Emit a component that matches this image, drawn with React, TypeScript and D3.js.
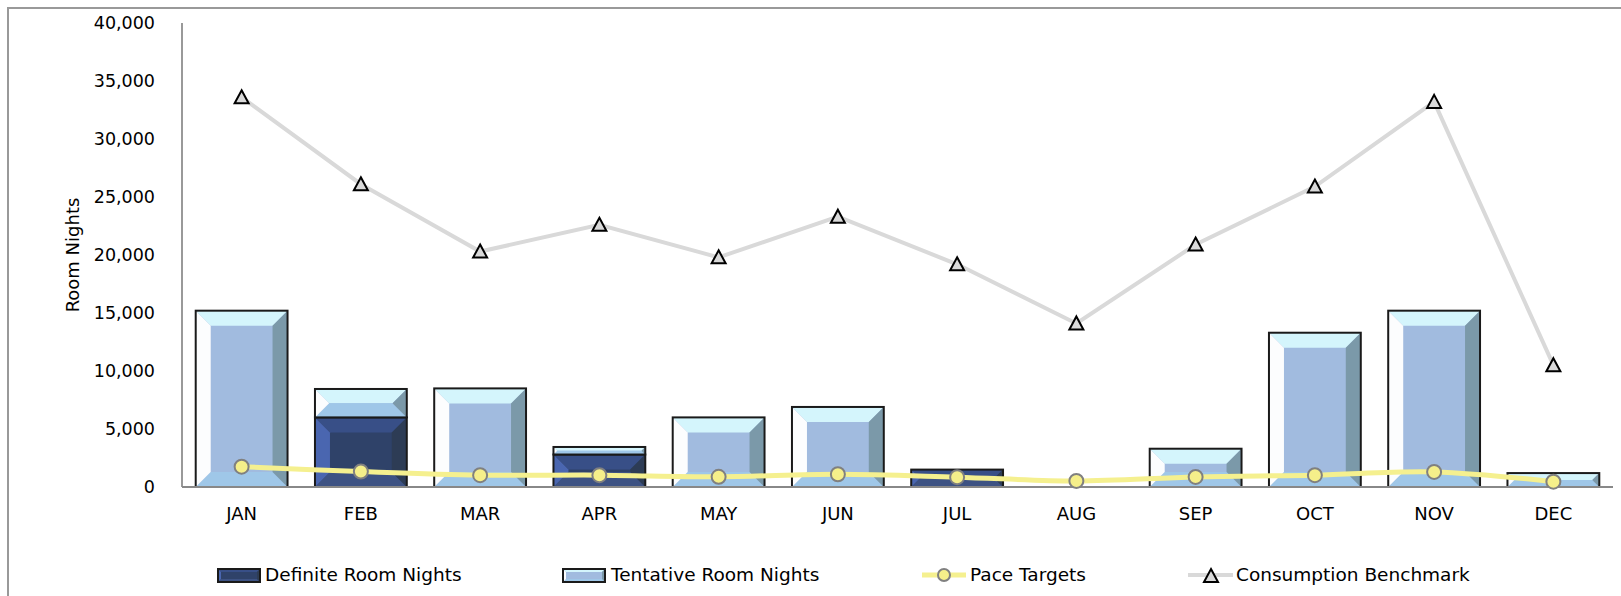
import { scaleBand, scaleLinear, line, curveCatmullRom } from 'd3';

const months = ['JAN', 'FEB', 'MAR', 'APR', 'MAY', 'JUN', 'JUL', 'AUG', 'SEP', 'OCT', 'NOV', 'DEC'];
const definite = [0, 6000, 0, 2800, 0, 0, 1500, 0, 0, 0, 0, 0];
const tentative = [15200, 2450, 8500, 650, 6000, 6900, 0, 0, 3300, 13300, 15200, 1200];
const paceTargets = [1750, 1330, 1020, 1020, 880, 1100, 850, 520, 870, 1020, 1300, 460];
const consumption = [33600, 26100, 20300, 22600, 19800, 23300, 19200, 14100, 20900, 25900, 33200, 10500];
const yTicks = [0, 5000, 10000, 15000, 20000, 25000, 30000, 35000, 40000];

const W = 1621;
const H = 596;
const FONT = '"DejaVu Sans", Verdana, sans-serif';
const m = { left: 182, right: 1613, top: 23, bottom: 487 };

const tentColors = { top: '#d4f5fc', left: '#fcfdfe', right: '#7b99a9', bottom: '#9fc7e8', center: '#a1bbdf' };
const defColors = { top: '#384f87', left: '#4a66b0', right: '#2d3c55', bottom: '#3d5283', center: '#2f4269' };

type Bevel = typeof tentColors;

function BevelBar({ x, y, w, h, c, maxB = 15 }: { x: number; y: number; w: number; h: number; c: Bevel; maxB?: number }) {
  if (h <= 0) return null;
  const b = Math.min(maxB, h / 2, w / 2);
  const pts = (p: number[][]) => p.map(d => d.join(',')).join(' ');
  return (
    <g>
      <rect x={x} y={y} width={w} height={h} fill={c.center} />
      <polygon points={pts([[x, y], [x + w, y], [x + w - b, y + b], [x + b, y + b]])} fill={c.top} />
      <polygon points={pts([[x, y + h], [x + w, y + h], [x + w - b, y + h - b], [x + b, y + h - b]])} fill={c.bottom} />
      <polygon points={pts([[x, y], [x + b, y + b], [x + b, y + h - b], [x, y + h]])} fill={c.left} />
      <polygon points={pts([[x + w, y], [x + w - b, y + b], [x + w - b, y + h - b], [x + w, y + h]])} fill={c.right} />
      <rect x={x} y={y} width={w} height={h} fill="none" stroke="#1a1a1a" strokeWidth={2} />
    </g>
  );
}

function Triangle({ cx, cy }: { cx: number; cy: number }) {
  return (
    <polygon
      points={`${cx},${cy - 7} ${cx + 7},${cy + 6} ${cx - 7},${cy + 6}`}
      fill="#d9d9d9"
      stroke="#000"
      strokeWidth={2}
    />
  );
}

export default function App() {
  const x = scaleBand<string>().domain(months).range([m.left, m.right]).paddingInner(0.23).paddingOuter(0.115);
  const y = scaleLinear().domain([0, 40000]).range([m.bottom, m.top]);
  const cx = (mo: string) => (x(mo) as number) + x.bandwidth() / 2;

  const paceLine = line<number>()
    .x((_, i) => cx(months[i]))
    .y(d => y(d))
    .curve(curveCatmullRom.alpha(0.5))(paceTargets);
  const consLine = line<number>()
    .x((_, i) => cx(months[i]))
    .y(d => y(d))(consumption);

  const legendY = 575;

  return (
    <svg width={W} height={H} style={{ position: 'absolute', left: 0, top: 0, background: '#fff' }} fontFamily={FONT}>
      <rect x={8} y={8} width={W + 20} height={H + 20} fill="#fff" stroke="#999" strokeWidth={2} />

      {/* y axis */}
      <line x1={m.left} x2={m.left} y1={m.top} y2={m.bottom} stroke="#999" strokeWidth={2} />
      {yTicks.map(t => (
        <text key={t} x={155} y={y(t)} dy="0.35em" textAnchor="end" fontSize={17.5} fill="#000">
          {t.toLocaleString('en-US')}
        </text>
      ))}
      <text transform={`translate(79, ${(m.top + m.bottom) / 2}) rotate(-90)`} textAnchor="middle" fontSize={18} fill="#000">
        Room Nights
      </text>

      {/* bars */}
      {months.map((mo, i) => {
        const bx = x(mo) as number;
        const bw = x.bandwidth();
        const d0 = y(0);
        const d1 = y(definite[i]);
        const t1 = y(definite[i] + tentative[i]);
        return (
          <g key={mo}>
            <BevelBar x={bx} y={d1} w={bw} h={d0 - d1} c={defColors} />
            <BevelBar x={bx} y={t1} w={bw} h={d1 - t1} c={tentColors} />
          </g>
        );
      })}

      {/* x axis */}
      <line x1={m.left} x2={m.right} y1={m.bottom} y2={m.bottom} stroke="#888" strokeWidth={2} />
      {months.map(mo => (
        <text key={mo} x={cx(mo)} y={514} dy="0.35em" textAnchor="middle" fontSize={18} fill="#000">
          {mo}
        </text>
      ))}

      {/* consumption benchmark */}
      <path d={consLine ?? ''} fill="none" stroke="#d9d9d9" strokeWidth={4} />
      {consumption.map((v, i) => (
        <Triangle key={i} cx={cx(months[i])} cy={y(v)} />
      ))}

      {/* pace targets */}
      <path d={paceLine ?? ''} fill="none" stroke="#f5f08f" strokeWidth={5} />
      {paceTargets.map((v, i) => (
        <circle key={i} cx={cx(months[i])} cy={y(v)} r={7} fill="#f5ef8a" stroke="#808080" strokeWidth={2} />
      ))}

      {/* legend */}
      <BevelBar x={218} y={legendY - 6} w={42} h={13} c={defColors} maxB={3} />
      <text x={265} y={legendY} dy="0.35em" fontSize={18.5} fill="#000">Definite Room Nights</text>
      <BevelBar x={563} y={legendY - 6} w={42} h={13} c={tentColors} maxB={3} />
      <text x={611} y={legendY} dy="0.35em" fontSize={18.5} fill="#000">Tentative Room Nights</text>
      <line x1={922} x2={966} y1={legendY} y2={legendY} stroke="#f5f08f" strokeWidth={5} />
      <circle cx={944} cy={legendY} r={6} fill="#f5ef8a" stroke="#808080" strokeWidth={2} />
      <text x={970} y={legendY} dy="0.35em" fontSize={18.5} fill="#000">Pace Targets</text>
      <line x1={1188} x2={1233} y1={legendY} y2={legendY} stroke="#d9d9d9" strokeWidth={4} />
      <Triangle cx={1211} cy={legendY + 1} />
      <text x={1236} y={legendY} dy="0.35em" fontSize={18.5} fill="#000">Consumption Benchmark</text>
    </svg>
  );
}
